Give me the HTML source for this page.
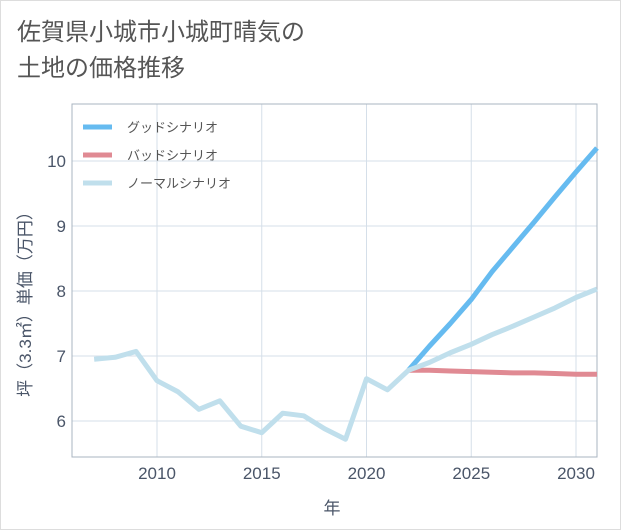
<!DOCTYPE html>
<html><head><meta charset="utf-8"><style>
body{margin:0;background:#fff;}
#wrap{width:619px;height:528px;border:1px solid #ddd;position:relative;font-family:"Liberation Sans","Noto Sans CJK JP",sans-serif;}
#title{position:absolute;left:16px;top:14px;font-size:24px;line-height:36px;color:#555;}
</style></head><body>
<div id="wrap">
<div id="title">佐賀県小城市小城町晴気の<br>土地の価格推移</div>
<svg id="chart" width="621" height="530" style="position:absolute;left:-1px;top:-1px"></svg>
</div>
<script>
const years=[2007,2008,2009,2010,2011,2012,2013,2014,2015,2016,2017,2018,2019,2020,2021,2022,2023,2024,2025,2026,2027,2028,2029,2030,2031];
const normalValues=[6.95,6.98,7.07,6.62,6.45,6.18,6.31,5.92,5.82,6.12,6.08,5.88,5.72,6.65,6.48,6.78,6.9,7.05,7.18,7.33,7.46,7.6,7.74,7.9,8.03];
const futureYears=[2022,2023,2024,2025,2026,2027,2028,2029,2030,2031];
const goodValues=[6.78,7.15,7.5,7.87,8.3,8.68,9.06,9.45,9.83,10.2];
const badValues=[6.78,6.78,6.77,6.76,6.75,6.74,6.74,6.73,6.72,6.72];
const xTicks=[2010,2015,2020,2025,2030];
const yTicks=[6,7,8,9,10];
const legendLabels=["グッドシナリオ","バッドシナリオ","ノーマルシナリオ"];
const NS="http://www.w3.org/2000/svg";
const svg=document.getElementById('chart');
const L=72,R=597,T=104,B=457;
const x=v=>157+(v-2010)*(576-157)/20;
const y=v=>421-(v-6)*65;
function mk(tag,attrs){const e=document.createElementNS(NS,tag);for(const k in attrs)e.setAttribute(k,attrs[k]);svg.appendChild(e);return e;}
xTicks.forEach(t=>{
 const g=mk('line',{x1:x(t),x2:x(t),y1:T,y2:B,stroke:'#d5dfe9','stroke-width':1});
 
 
 const tx=mk('text',{x:x(t),y:479,'text-anchor':'middle','font-size':17,fill:'#4a5568'});
 tx.textContent=t;
 
 
});
yTicks.forEach(t=>{
 const g=mk('line',{x1:L,x2:R,y1:y(t),y2:y(t),stroke:'#d5dfe9','stroke-width':1});
 
 
 const tx=mk('text',{x:66,y:y(t)+6,'text-anchor':'end','font-size':17,fill:'#4a5568'});
 tx.textContent=t;
 
 
});
const frame=mk('rect',{x:L,y:T,width:R-L,height:B-T,fill:'none',stroke:'#aab4c0','stroke-width':1});


function line(xs,vs,color,name){
 const p=mk('polyline',{points:xs.map((v,i)=>x(v)+','+y(vs[i])).join(' '),fill:'none',stroke:color,'stroke-width':5,'stroke-linejoin':'round'});
 
 
}
line(futureYears,badValues,'#e08a93','bad-scenario-line');
line(futureYears,goodValues,'#66bbf0','good-scenario-line');
line(years,normalValues,'#c0dfec','normal-scenario-line');
const colors=['#66bbf0','#e08a93','#c0dfec'];
legendLabels.forEach((lab,i)=>{
 const yy=127+i*28;
 const l=mk('line',{x1:83,x2:112,y1:yy,y2:yy,stroke:colors[i],'stroke-width':5});
 
 
 const t=mk('text',{x:127,y:yy+5,'font-size':13,fill:'#555'});
 t.textContent=lab;
 
 
});
const xt=mk('text',{x:332,y:514,'text-anchor':'middle','font-size':17,fill:'#4a5568'});
xt.textContent='年';


const yt=mk('text',{x:0,y:0,'text-anchor':'middle','font-size':17,fill:'#4a5568',transform:'translate(31,300) rotate(-90)'});
yt.textContent='坪（3.3㎡）単価（万円）';


</script>
</body></html>
